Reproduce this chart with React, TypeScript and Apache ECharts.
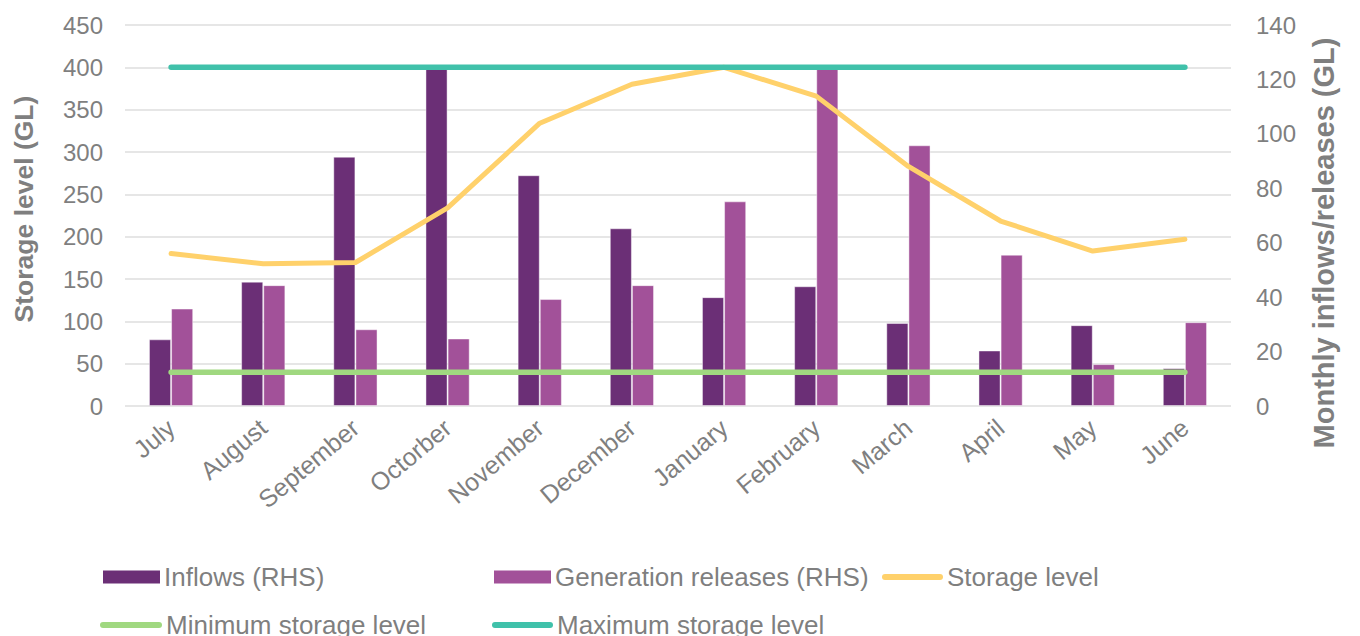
import React, { useEffect, useRef } from "react";
import * as echarts from "echarts";

const months = ["July", "August", "September", "Octorber", "November", "December", "January", "February", "March", "April", "May", "June"];
const inflows = [24.5, 45.7, 91.6, 124, 84.8, 65.3, 40, 44, 30.5, 20.4, 29.7, 13.9];
const releases = [35.8, 44.4, 28.2, 24.8, 39.3, 44.4, 75.2, 124, 95.8, 55.6, 15.4, 30.8];
const storage = [180, 168, 169.5, 234, 334, 380, 400, 366, 283, 218.5, 183, 197];
const minLevel = [40, 40, 40, 40, 40, 40, 40, 40, 40, 40, 40, 40];
const maxLevel = [400, 400, 400, 400, 400, 400, 400, 400, 400, 400, 400, 400];
const leftTicks = { min: 0, max: 450, interval: 50 };
const rightTicks = { min: 0, max: 140, interval: 20 };

const FONT = "'Liberation Sans', Arial, sans-serif";
const GREY = "#7f7f7f";
const C_IN = "#6b2f76";
const C_REL = "#a25199";
const C_STO = "#ffd16b";
const C_MIN = "#a0d880";
const C_MAX = "#40c1aa";

function capsule(w: number, h: number) {
  const r = h / 2;
  return `path://M${r},0L${w - r},0A${r},${r},0,0,1,${w - r},${h}L${r},${h}A${r},${r},0,0,1,${r},0Z`;
}

function legendAt(name: string, left: number, top: number, w: number, h: number, icon: string) {
  return {
    data: [{ name, icon }],
    left,
    top,
    itemWidth: w,
    itemHeight: h,
    itemGap: 0,
    padding: 0,
    selectedMode: false,
    itemStyle: { borderWidth: 0 },
    textStyle: { fontFamily: FONT, fontSize: 26, color: GREY, padding: [0, 0, 0, -1] },
  };
}

export default function App() {
  const ref = useRef<HTMLDivElement>(null);
  useEffect(() => {
    if (!ref.current) return;
    const chart = echarts.init(ref.current, undefined, { renderer: "svg" });
    const lineBase = { type: "line", symbol: "none", z: 5 };
    chart.setOption({
      animation: false,
      backgroundColor: "#ffffff",
      grid: { left: 125, right: 129, top: 25, bottom: 230, containLabel: false },
      xAxis: {
        type: "category",
        data: months,
        axisLine: { show: false },
        axisTick: { show: false },
        axisLabel: { rotate: 40, fontFamily: FONT, fontSize: 25, color: GREY, margin: 18, interval: 0 },
      },
      yAxis: [
        {
          type: "value",
          ...leftTicks,
          axisLine: { show: false },
          axisTick: { show: false },
          axisLabel: { fontFamily: FONT, fontSize: 24, color: GREY, margin: 22 },
          splitLine: { lineStyle: { color: "#dedede", width: 1.5 } },
        },
        {
          type: "value",
          ...rightTicks,
          axisLine: { show: false },
          axisTick: { show: false },
          axisLabel: { fontFamily: FONT, fontSize: 24, color: GREY, margin: 25 },
          splitLine: { show: false },
        },
      ],
      legend: [
        legendAt("Inflows (RHS)", 103, 564, 57, 13, "rect"),
        legendAt("Generation releases (RHS)", 494, 564, 57, 13, "rect"),
        legendAt("Storage level", 882, 564, 61, 6, capsule(61, 6)),
        legendAt("Minimum storage level", 100, 612, 62, 6, capsule(62, 6)),
        legendAt("Maximum storage level", 492, 612, 61, 6, capsule(61, 6)),
      ],
      graphic: [
        {
          type: "text",
          x: 24,
          y: 209,
          rotation: Math.PI / 2,
          style: { text: "Storage level (GL)", fontFamily: FONT, fontSize: 26.5, fontWeight: "bold", fill: GREY, align: "center", verticalAlign: "middle" },
        },
        {
          type: "text",
          x: 1324,
          y: 243,
          rotation: Math.PI / 2,
          style: { text: "Monthly inflows/releases (GL)", fontFamily: FONT, fontSize: 29, fontWeight: "bold", fill: GREY, align: "center", verticalAlign: "middle" },
        },
      ],
      series: [
        {
          name: "Inflows (RHS)",
          type: "bar",
          yAxisIndex: 1,
          data: inflows,
          barGap: "0%",
          barCategoryGap: "52%",
          itemStyle: { color: C_IN, borderColor: "rgba(255,255,255,0.45)", borderWidth: 1 },
        },
        {
          name: "Generation releases (RHS)",
          type: "bar",
          yAxisIndex: 1,
          data: releases,
          itemStyle: { color: C_REL, borderColor: "rgba(255,255,255,0.45)", borderWidth: 1 },
        },
        {
          ...lineBase,
          name: "Storage level",
          data: storage,
          color: C_STO,
          lineStyle: { color: C_STO, width: 5, cap: "round", join: "round" },
        },
        {
          ...lineBase,
          name: "Minimum storage level",
          data: minLevel,
          color: C_MIN,
          lineStyle: { color: C_MIN, width: 5.5, cap: "round" },
        },
        {
          ...lineBase,
          name: "Maximum storage level",
          data: maxLevel,
          color: C_MAX,
          lineStyle: { color: C_MAX, width: 5.5, cap: "round" },
        },
      ],
    });
    return () => chart.dispose();
  }, []);
  return <div ref={ref} style={{ position: "fixed", left: 0, top: 0, width: 1360, height: 636 }} />;
}
